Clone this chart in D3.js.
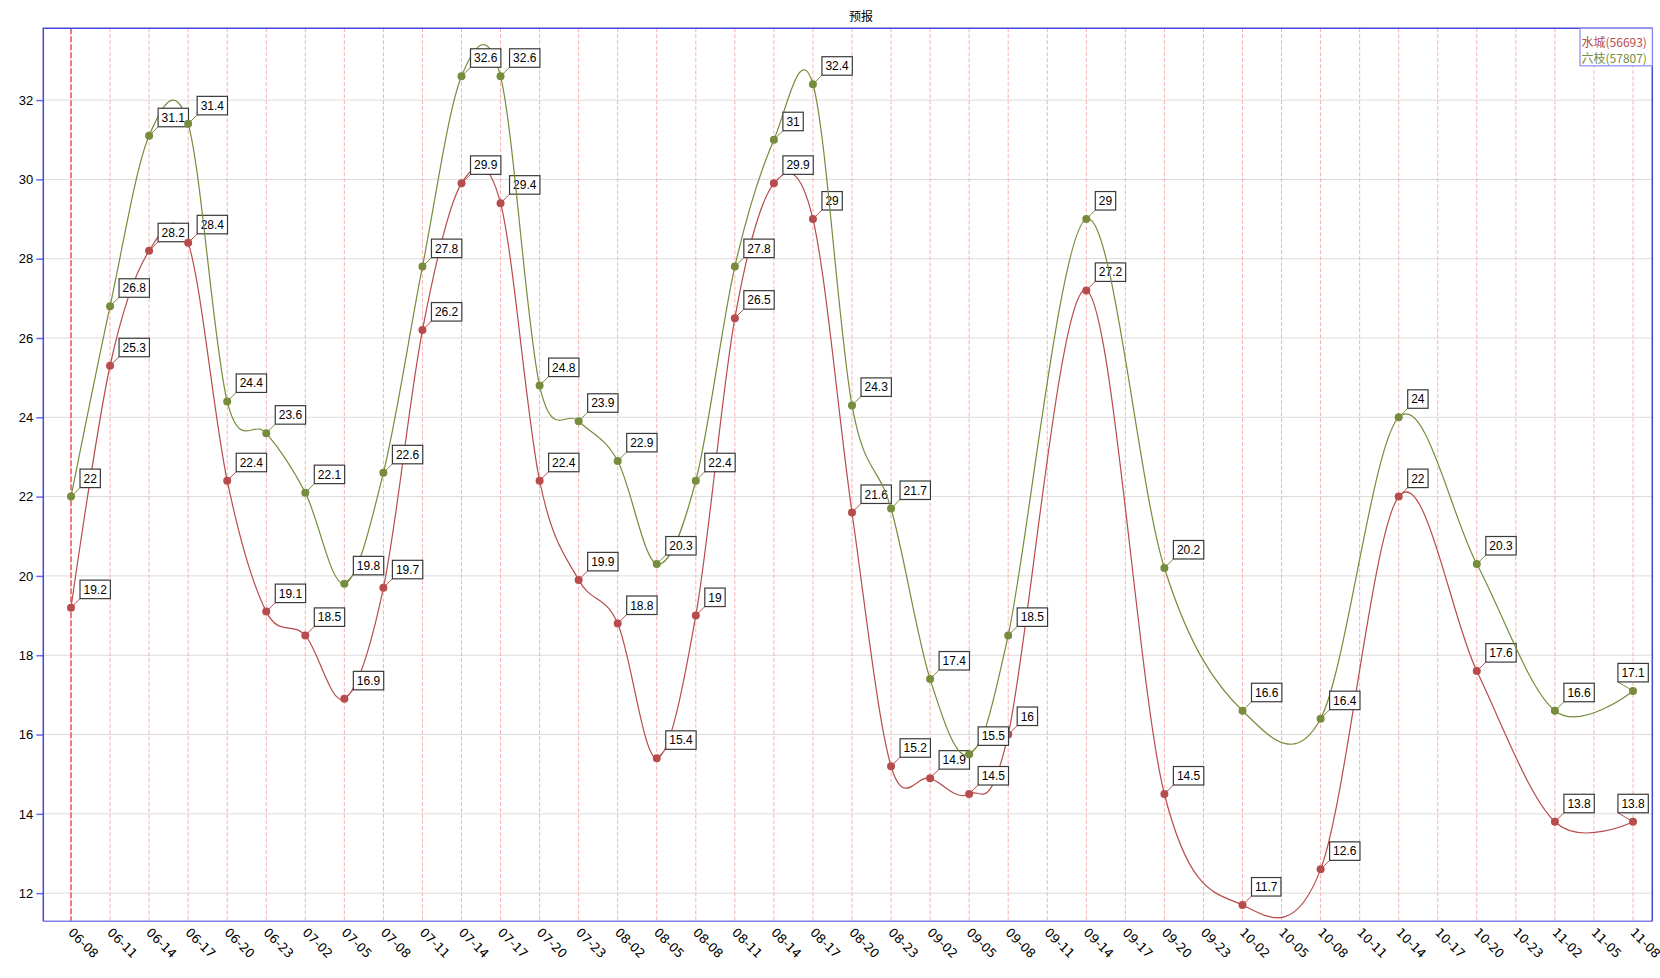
<!DOCTYPE html>
<html>
<head>
<meta charset="utf-8">
<script src="https://cdn.jsdelivr.net/npm/d3@7/dist/d3.min.js"></script>
<style>
  html, body { margin: 0; padding: 0; background: #ffffff; }
  svg { display: block; }
</style>
</head>
<body>
<svg id="chart" width="1660" height="978"></svg>
<script>
// ---------- data ----------
const title = "预报";
const categories = [
  "06-08","06-11","06-14","06-17","06-20","06-23",
  "07-02","07-05","07-08","07-11","07-14","07-17","07-20","07-23",
  "08-02","08-05","08-08","08-11","08-14","08-17","08-20","08-23",
  "09-02","09-05","09-08","09-11","09-14","09-17","09-20","09-23",
  "10-02","10-05","10-08","10-11","10-14","10-17","10-20","10-23",
  "11-02","11-05","11-08"
];
const seriesNames = ["水城(56693)", "六枝(57807)"];
const shuicheng = [
  19.2, 25.3, 28.2, 28.4, 22.4, 19.1,
  18.5, 16.9, 19.7, 26.2, 29.9, 29.4, 22.4, 19.9,
  18.8, 15.4, 19, 26.5, 29.9, 29, 21.6, 15.2,
  14.9, 14.5, 16, null, 27.2, null, 14.5, null,
  11.7, null, 12.6, null, 22, null, 17.6, null,
  13.8, null, 13.8
];
const liuzhi = [
  22, 26.8, 31.1, 31.4, 24.4, 23.6,
  22.1, 19.8, 22.6, 27.8, 32.6, 32.6, 24.8, 23.9,
  22.9, 20.3, 22.4, 27.8, 31, 32.4, 24.3, 21.7,
  17.4, 15.5, 18.5, null, 29, null, 20.2, null,
  16.6, null, 16.4, null, 24, null, 20.3, null,
  16.6, null, 17.1
];
const yTicks = [12, 14, 16, 18, 20, 22, 24, 26, 28, 30, 32];
const yDomain = [11.29, 33.81];

// ---------- layout / style ----------
const plot = { left: 43.3, right: 1652.3, top: 28.3, bottom: 921.3 };
const firstX = 71, lastX = 1633;
const colors = ["#b84c4c", "#778c3c"];

const svg = d3.select("#chart");

const x = d3.scaleLinear().domain([0, categories.length - 1]).range([firstX, lastX]);
const y = d3.scaleLinear().domain(yDomain).range([plot.bottom, plot.top]);

// title
svg.append("text")
  .attr("x", 861).attr("y", 21)
  .attr("text-anchor", "middle")
  .attr("font-family", "'Noto Sans CJK SC', sans-serif")
  .attr("font-size", 12)
  .attr("fill", "#000")
  .text(title);

// horizontal grid
svg.append("g").selectAll("line").data(yTicks).join("line")
  .attr("x1", plot.left).attr("x2", plot.right)
  .attr("y1", d => y(d)).attr("y2", d => y(d))
  .attr("stroke", "#dcdcdc").attr("stroke-width", 1);

// vertical category lines
svg.append("g").selectAll("line").data(categories).join("line")
  .attr("x1", (d, i) => x(i)).attr("x2", (d, i) => x(i))
  .attr("y1", plot.top).attr("y2", plot.bottom)
  .attr("stroke", (d, i) => i === 0 ? "#f07a7a" : "#f7b0b0")
  .attr("stroke-width", (d, i) => i === 0 ? 2 : 1)
  .attr("stroke-dasharray", (d, i) => i === 0 ? "6,2" : "4,2");

// y axis
const yAxis = d3.axisLeft(y).tickValues(yTicks).tickSize(7).tickPadding(3).tickFormat(d3.format("d"));
const yg = svg.append("g").attr("transform", `translate(${plot.left},0)`).call(yAxis);
yg.select(".domain").remove();
yg.selectAll(".tick line").attr("stroke", "#6a6ae8").attr("stroke-width", 1.5);
yg.selectAll(".tick text")
  .attr("font-family", "'Liberation Sans', Arial, sans-serif")
  .attr("font-size", 13).attr("fill", "#000");

// x axis labels
const xAxis = d3.axisBottom(x).tickValues(d3.range(categories.length)).tickSize(0).tickFormat(i => categories[i]);
const xg = svg.append("g").attr("transform", `translate(0,${plot.bottom})`).call(xAxis);
xg.select(".domain").remove();
xg.selectAll(".tick text")
  .attr("font-family", "'DejaVu Sans', sans-serif")
  .attr("font-size", 12.5).attr("fill", "#000")
  .attr("text-anchor", "start")
  .attr("dy", null).attr("y", null)
  .attr("transform", "translate(-4,12) rotate(45)");

// plot border
svg.append("line").attr("x1", plot.left).attr("x2", plot.right).attr("y1", plot.bottom).attr("y2", plot.bottom)
  .attr("stroke", "#8080ee").attr("stroke-width", 1.5);
svg.append("path")
  .attr("d", `M${plot.left},${plot.bottom}V${plot.top}H${plot.right}V${plot.bottom}`)
  .attr("fill", "none").attr("stroke", "#4646dc").attr("stroke-width", 1.5);

// series
const allSeries = [shuicheng, liuzhi];
const line = d3.line()
  .x(d => x(d.i)).y(d => y(d.v))
  .curve(d3.curveCardinal.tension(0));

allSeries.forEach((vals, s) => {
  const pts = vals.map((v, i) => ({ i, v })).filter(d => d.v !== null);
  const g = svg.append("g");
  g.append("path").datum(pts)
    .attr("d", line)
    .attr("fill", "none")
    .attr("stroke", colors[s]).attr("stroke-width", 1.2);

  // labels
  const lg = g.append("g");
  pts.forEach(d => {
    const px = x(d.i), py = y(d.v);
    const txt = String(d.v);
    const t = lg.append("text")
      .attr("font-family", "'Liberation Sans', Arial, sans-serif")
      .attr("font-size", 12).attr("fill", "#000")
      .text(txt);
    const w = t.node().getComputedTextLength() + 7;
    const h = 18.5;
    let bx = px + 9;
    if (bx + w > plot.right - 4) bx = plot.right - 4 - w;
    const by = py - 9 - h;
    lg.insert("line", "text")
      .attr("x1", px).attr("y1", py).attr("x2", bx).attr("y2", by + h)
      .attr("stroke", colors[s]).attr("stroke-width", 1);
    lg.insert("rect", "text")
      .attr("x", bx).attr("y", by).attr("width", w).attr("height", h)
      .attr("fill", "#fff").attr("stroke", "#3a3a3a").attr("stroke-width", 1.2);
    t.attr("x", bx + w / 2).attr("y", by + h / 2 + 4.3).attr("text-anchor", "middle");
  });

  g.selectAll("circle").data(pts).join("circle")
    .attr("cx", d => x(d.i)).attr("cy", d => y(d.v)).attr("r", 4)
    .attr("fill", colors[s]);
});

// legend
const leg = svg.append("g");
leg.append("rect")
  .attr("x", 1580).attr("y", plot.top).attr("width", plot.right - 1580).attr("height", 37.5)
  .attr("fill", "#fff").attr("stroke", "#8a8aee").attr("stroke-width", 1.2);
seriesNames.forEach((n, s) => {
  leg.append("text")
    .attr("x", 1581.5).attr("y", 47 + s * 16.3)
    .attr("font-family", "'Noto Sans CJK SC', sans-serif")
    .attr("font-size", 12).attr("fill", colors[s])
    .text(n);
});
</script>
</body>
</html>
